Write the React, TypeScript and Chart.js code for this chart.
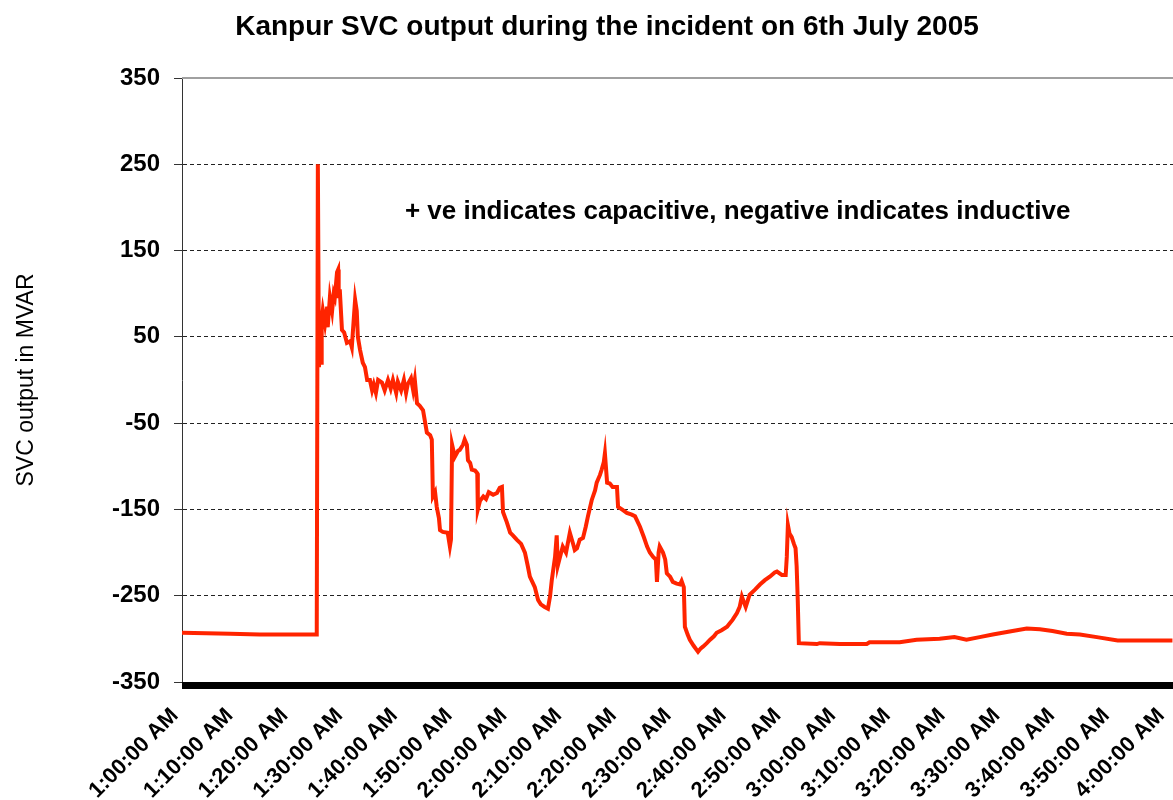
import { useEffect, useRef } from 'react';
import { Chart, registerables } from 'chart.js';

Chart.register(...registerables);

const chartTitle = 'Kanpur SVC output during the incident on 6th July 2005';
const noteText = '+ ve indicates capacitive, negative indicates inductive';
const yAxisTitle = 'SVC output in MVAR';

const xTickLabels = [
  '1:00:00 AM', '1:10:00 AM', '1:20:00 AM', '1:30:00 AM', '1:40:00 AM', '1:50:00 AM',
  '2:00:00 AM', '2:10:00 AM', '2:20:00 AM', '2:30:00 AM', '2:40:00 AM', '2:50:00 AM',
  '3:00:00 AM', '3:10:00 AM', '3:20:00 AM', '3:30:00 AM', '3:40:00 AM', '3:50:00 AM',
  '4:00:00 AM',
];

// minutes after 1:00:00 AM
const timeMinutes = [
  0, 8.8, 14.2, 24.5, 24.6, 24.8, 25.0, 25.2, 25.4, 25.5,
  25.7, 26.1, 26.5, 26.6, 27.0, 27.4, 27.7, 27.9, 28.3, 28.5,
  28.6, 28.8, 29.2, 29.6, 30.1, 30.7, 31.0, 31.4, 31.6, 31.9,
  32.1, 32.5, 33.0, 33.4, 33.8, 34.3, 34.7, 35.0, 35.4, 35.8,
  36.5, 37.0, 37.6, 38.1, 38.5, 39.1, 39.4, 40.0, 40.5, 40.9,
  41.2, 41.8, 42.2, 42.5, 42.9, 43.4, 44.0, 44.7, 45.3, 45.6,
  45.8, 46.2, 46.5, 46.9, 47.1, 47.6, 48.5, 48.9, 49.1, 49.3,
  49.8, 50.4, 50.7, 51.3, 51.6, 52.0, 52.2, 52.6, 52.9, 53.5,
  53.9, 54.0, 54.4, 55.0, 55.5, 56.0, 56.8, 57.5, 58.0, 58.4,
  58.6, 59.3, 59.9, 60.4, 61.1, 61.9, 62.6, 63.1, 63.5, 64.4,
  65.0, 65.5, 66.2, 66.8, 67.2, 67.5, 68.1, 68.4, 68.6, 69.0,
  69.5, 70.1, 70.8, 71.4, 71.7, 72.1, 72.6, 73.2, 73.7, 74.1,
  74.8, 75.4, 75.7, 76.3, 76.6, 77.0, 77.2, 77.6, 78.1, 78.6,
  79.4, 79.6, 80.3, 81.2, 82.1, 82.7, 83.6, 84.3, 84.9, 85.4,
  86.0, 86.5, 86.7, 87.0, 87.2, 87.8, 88.2, 88.5, 89.1, 89.6,
  90.3, 90.9, 91.2, 91.6, 91.8, 92.3, 92.7, 93.4, 94.2, 94.7,
  95.1, 95.8, 96.4, 97.1, 97.6, 98.5, 99.5, 100.0, 100.5, 101.3,
  101.8, 102.2, 102.6, 102.9, 103.3, 103.6, 104.6, 105.5, 106.4, 107.3,
  108.2, 108.6, 109.5, 110.2, 110.4, 110.6, 110.9, 111.3, 111.7, 112.0,
  112.2, 112.4, 112.6, 115.9, 116.4, 120.1, 125.0, 125.5, 131.0, 134.1,
  138.3, 141.0, 143.2, 145.6, 148.0, 151.6, 154.2, 156.6, 158.9, 161.5,
  163.9, 167.0, 170.8, 180.8,
];

// SVC output (MVAR)
const svcMvar = [
  -293, -294, -295, -295, -280, 250, 15, 40, 20, 70,
  81, 65, 85, 61, 96, 80, 100, 96, 125, 128,
  95, 105, 58, 55, 43, 45, 38, 75, 93, 80,
  50, 35, 20, 15, 0, 0, -12, -5, -15, 0,
  -3, -12, 0, -10, 0, -15, -2, -12, 0, -15,
  -5, 2, -12, 0, -27, -30, -35, -61, -64, -69,
  -135, -130, -147, -160, -174, -176, -177, -193, -185, -75,
  -89, -82, -81, -75, -69, -75, -93, -96, -104, -105,
  -108, -150, -140, -135, -138, -130, -133, -131, -125, -124,
  -153, -165, -177, -180, -185, -190, -200, -215, -228, -240,
  -255, -260, -263, -265, -250, -232, -205, -180, -215, -205,
  -193, -200, -177, -190, -197, -195, -185, -183, -170, -158,
  -139, -128, -119, -110, -104, -95, -85, -119, -120, -124,
  -124, -147, -150, -154, -156, -158, -170, -182, -193, -200,
  -205, -208, -234, -200, -193, -200, -208, -224, -228, -234,
  -236, -237, -233, -240, -286, -295, -301, -308, -315, -311,
  -309, -305, -301, -297, -293, -290, -286, -282, -278, -270,
  -263, -251, -258, -263, -255, -249, -243, -237, -232, -228,
  -223, -222, -226, -226, -205, -168, -178, -182, -190, -195,
  -216, -255, -305, -306, -305, -306, -306, -304, -304, -301,
  -300, -298, -301, -298, -295, -291, -288, -289, -291, -294,
  -295, -298, -302, -302,
];

const yMin = -350;
const yMax = 350;
const yStep = 100;
const xMin = 0;
const xMax = 180.9;
const xStep = 10;
const notePos = { minute: 40.7, value: 195 };

const FONT = "'Liberation Sans', Arial, sans-serif";

const decorPlugin = {
  id: 'decor',
  beforeDatasetsDraw(chart: any) {
    const { ctx, chartArea } = chart;
    ctx.save();
    ctx.fillStyle = '#a0a0a0';
    ctx.fillRect(chartArea.left, chartArea.top - 1, chartArea.right - chartArea.left, 2);
    ctx.restore();
  },
  afterDatasetsDraw(chart: any) {
    const { ctx, chartArea, scales } = chart;
    ctx.save();
    ctx.fillStyle = '#000';
    ctx.fillRect(chartArea.left, chartArea.bottom, chartArea.right - chartArea.left, 7);
    ctx.font = `bold 26px ${FONT}`;
    ctx.textAlign = 'left';
    ctx.textBaseline = 'middle';
    ctx.fillStyle = '#000';
    ctx.fillText(
      noteText,
      scales.x.getPixelForValue(notePos.minute),
      scales.y.getPixelForValue(notePos.value)
    );
    ctx.font = `bold 28px ${FONT}`;
    ctx.textAlign = 'center';
    ctx.fillText(chartTitle, 607, 27);
    ctx.restore();
  },
};

export default function App() {
  const canvasRef = useRef<HTMLCanvasElement | null>(null);

  useEffect(() => {
    const canvas = canvasRef.current;
    if (!canvas) return;
    const points = timeMinutes.map((t, i) => ({ x: t, y: svcMvar[i] }));
    const chart = new Chart(canvas, {
      type: 'line',
      data: {
        datasets: [
          {
            label: yAxisTitle,
            data: points,
            borderColor: '#ff2400',
            backgroundColor: '#ff2400',
            borderWidth: 4,
            borderJoinStyle: 'miter',
            pointRadius: 0,
            tension: 0,
            fill: false,
          },
        ],
      },
      options: {
        responsive: false,
        animation: false,
        layout: { padding: { top: 78, left: 0, right: 0, bottom: 0 } },
        plugins: {
          legend: { display: false },
          title: { display: false },
          tooltip: { enabled: false },
        },
        scales: {
          x: {
            type: 'linear',
            min: xMin,
            max: xMax,
            grid: { display: false, drawTicks: false },
            border: { display: false },
            ticks: {
              stepSize: xStep,
              includeBounds: false,
              autoSkip: false,
              maxRotation: 45,
              minRotation: 45,
              padding: 21,
              labelOffset: -7,
              color: '#000',
              font: { family: FONT, size: 22, weight: 'bold' },
              callback: (value: any) => {
                const idx = Math.round(Number(value) / xStep);
                return Number(value) % xStep === 0 ? xTickLabels[idx] : '';
              },
            },
            afterFit: (scale: any) => {
              scale.height = 118;
              scale.paddingLeft = 0;
              scale.paddingRight = 0;
            },
          },
          y: {
            type: 'linear',
            min: yMin,
            max: yMax,
            grid: {
              color: (c: any) =>
                c.tick && (c.tick.value === yMin || c.tick.value === yMax) ? 'rgba(0,0,0,0)' : '#222',
              tickColor: '#333',
              tickLength: 8,
              lineWidth: 1,
            },
            border: { display: true, color: '#333', width: 1, dash: [4, 3] },
            ticks: {
              stepSize: yStep,
              padding: 14,
              color: '#000',
              font: { family: FONT, size: 24, weight: 'bold' },
            },
            title: {
              display: true,
              text: yAxisTitle,
              color: '#000',
              font: { family: FONT, size: 23, weight: 'normal' },
              padding: { top: 13, bottom: 0 },
            },
            afterFit: (scale: any) => {
              scale.width = 182;
            },
          },
        },
      },
      plugins: [decorPlugin],
    });
    return () => chart.destroy();
  }, []);

  return (
    <div style={{ position: 'absolute', left: 0, top: 0, width: 1173, height: 800, background: '#fff' }}>
      <canvas ref={canvasRef} width={1173} height={800} style={{ display: 'block' }} />
    </div>
  );
}
